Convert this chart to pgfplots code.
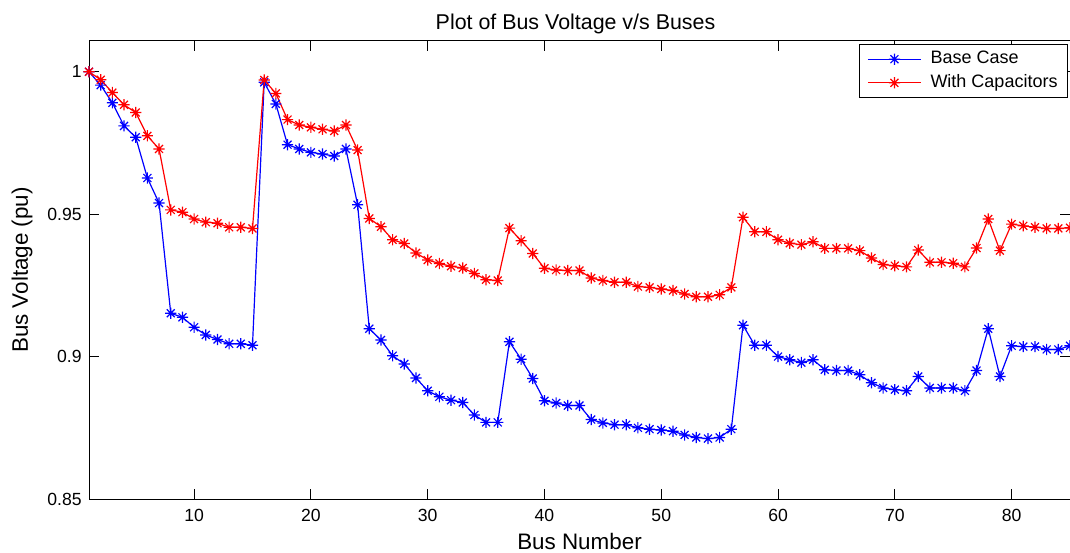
\documentclass[border=0pt]{standalone}
\usepackage{fontspec}
\setmainfont{Liberation Sans}
\usepackage{pgfplots}
\pgfplotsset{compat=1.18}
\pgfdeclareplotmark{mstar}{%
  \pgfpathmoveto{\pgfqpoint{-\pgfplotmarksize}{0pt}}%
  \pgfpathlineto{\pgfqpoint{\pgfplotmarksize}{0pt}}%
  \pgfpathmoveto{\pgfqpoint{0pt}{-\pgfplotmarksize}}%
  \pgfpathlineto{\pgfqpoint{0pt}{\pgfplotmarksize}}%
  \pgfpathmoveto{\pgfqpoint{-.7071\pgfplotmarksize}{-.7071\pgfplotmarksize}}%
  \pgfpathlineto{\pgfqpoint{.7071\pgfplotmarksize}{.7071\pgfplotmarksize}}%
  \pgfpathmoveto{\pgfqpoint{-.7071\pgfplotmarksize}{.7071\pgfplotmarksize}}%
  \pgfpathlineto{\pgfqpoint{.7071\pgfplotmarksize}{-.7071\pgfplotmarksize}}%
  \pgfusepathqstroke}
\begin{document}
\begin{tikzpicture}
\useasboundingbox (0,0) rectangle (535pt,276pt);
\begin{axis}[
  at={(44.5pt,26.5pt)}, anchor=south west,
  scale only axis, width=490.5pt, height=229pt,
  xmin=1, xmax=85, ymin=0.85, ymax=1.0108,
  axis line style={black, line width=0.5pt},
  tick align=inside, major tick length=5pt,
  tick style={black, line width=0.5pt},
  xtick={10,20,30,40,50,60,70,80},
  ytick={0.85,0.9,0.95,1}, yticklabels={0.85,0.9,0.95,1},
  /pgf/number format/assume math mode=true,
  ticklabel style={font=\fontsize{8.8}{10}\selectfont},
  xticklabel style={inner sep=0pt, yshift=-5pt},
  yticklabel style={inner sep=0pt, xshift=-3.5pt},
  every axis title shift=0pt,
  title={Plot of Bus Voltage v/s Buses},
  title style={font=\fontsize{10.7}{12}\selectfont, at={(axis description cs:0.5,1)}, anchor=base, yshift=5.5pt, xshift=-2pt, inner sep=0pt},
  xlabel={Bus Number},
  xlabel style={font=\fontsize{11.2}{13}\selectfont, at={(axis description cs:0.5,-0.1092)}, anchor=base, inner sep=0pt},
  ylabel={Bus Voltage (pu)},
  ylabel style={font=\fontsize{11.2}{13}\selectfont, at={(axis description cs:-0.0571,0.5)}, anchor=south, inner sep=0pt},
  legend style={at={(0.998,0.9934)}, anchor=north east, draw=black, line width=0.5pt,
    font=\fontsize{9}{10}\selectfont, inner xsep=4pt, inner ysep=2.3pt, row sep=1.7pt, column sep=3.5pt,
    nodes={inner sep=1pt, text height=6.3pt, text depth=1.8pt}, cells={anchor=west}, fill=white},
  legend image code/.code={\draw[mark repeat=2,mark phase=2] plot coordinates {(0pt,0pt) (13.25pt,0pt) (26.5pt,0pt)};},
]
\addplot[color=blue, line width=0.6pt, mark=mstar, mark size=2.8pt] coordinates {
(1,1.0) (2,0.9953) (3,0.9891) (4,0.981) (5,0.977) (6,0.9627) (7,0.9539) (8,0.9152) (9,0.9138) (10,0.9103)
(11,0.9076) (12,0.906) (13,0.9045) (14,0.9045) (15,0.9040) (16,0.9963) (17,0.9887) (18,0.9744) (19,0.9729) (20,0.9717)
(21,0.9711) (22,0.9704) (23,0.9729) (24,0.9533) (25,0.9098) (26,0.9058) (27,0.9003) (28,0.8974) (29,0.8925) (30,0.8880)
(31,0.8859) (32,0.8847) (33,0.8839) (34,0.8795) (35,0.8769) (36,0.8769) (37,0.9052) (38,0.8991) (39,0.8923) (40,0.8845)
(41,0.8837) (42,0.8828) (43,0.8828) (44,0.8779) (45,0.8767) (46,0.8761) (47,0.8761) (48,0.8750) (49,0.8745) (50,0.8742)
(51,0.8738) (52,0.8725) (53,0.8716) (54,0.8712) (55,0.8716) (56,0.8745) (57,0.9110) (58,0.9040) (59,0.9040) (60,0.9000)
(61,0.8989) (62,0.8979) (63,0.8989) (64,0.8954) (65,0.8951) (66,0.8951) (67,0.8936) (68,0.8908) (69,0.8890) (70,0.8884)
(71,0.8880) (72,0.8930) (73,0.8890) (74,0.8890) (75,0.8890) (76,0.8880) (77,0.8951) (78,0.9098) (79,0.8930) (80,0.9038)
(81,0.9035) (82,0.9035) (83,0.9025) (84,0.9025) (85,0.9038)
};
\addlegendentry{Base Case}
\addplot[color=red, line width=0.6pt, mark=mstar, mark size=2.8pt] coordinates {
(1,1.0) (2,0.9972) (3,0.9927) (4,0.9884) (5,0.9857) (6,0.9775) (7,0.9729) (8,0.9515) (9,0.9507) (10,0.9483)
(11,0.9472) (12,0.9468) (13,0.9454) (14,0.9454) (15,0.9450) (16,0.9971) (17,0.9924) (18,0.9832) (19,0.9813) (20,0.9805)
(21,0.9798) (22,0.9792) (23,0.9813) (24,0.9725) (25,0.9485) (26,0.9456) (27,0.9410) (28,0.9397) (29,0.9364) (30,0.9339)
(31,0.9327) (32,0.9317) (33,0.9311) (34,0.9292) (35,0.9270) (36,0.9267) (37,0.9451) (38,0.9407) (39,0.9362) (40,0.9310)
(41,0.9304) (42,0.9302) (43,0.9302) (44,0.9276) (45,0.9267) (46,0.9261) (47,0.9261) (48,0.9246) (49,0.9243) (50,0.9237)
(51,0.9232) (52,0.9220) (53,0.9210) (54,0.9210) (55,0.9217) (56,0.9243) (57,0.9489) (58,0.9438) (59,0.9438) (60,0.9410)
(61,0.9398) (62,0.9393) (63,0.9403) (64,0.9380) (65,0.9380) (66,0.9380) (67,0.9372) (68,0.9346) (69,0.9323) (70,0.9319)
(71,0.9315) (72,0.9374) (73,0.9331) (74,0.9331) (75,0.9328) (76,0.9315) (77,0.9381) (78,0.9483) (79,0.9372) (80,0.9465)
(81,0.9459) (82,0.9454) (83,0.9450) (84,0.9450) (85,0.9452)
};
\addlegendentry{With Capacitors}
\end{axis}
\end{tikzpicture}
\end{document}
